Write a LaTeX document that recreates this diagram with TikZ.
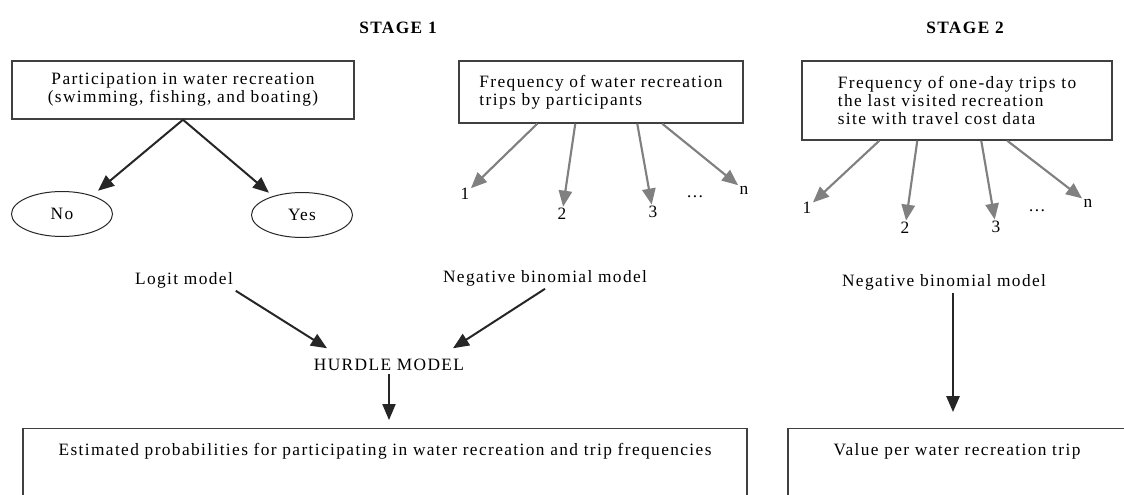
\documentclass[tikz,border=0pt]{standalone}
\usepackage{fontspec}
\setmainfont{Liberation Serif}[LetterSpace=8]
\usetikzlibrary{shapes.geometric,arrows.meta,calc}

\tikzset{
  framebox/.style={draw=black!75, line width=1.1pt, inner sep=0pt, align=left},
  choice/.style={ellipse, draw=black!85, line width=0.75pt, minimum width=75.75pt, minimum height=33.75pt},
  blkarrow/.style={draw=black!85, line width=1.5pt, -{Triangle[length=12pt,width=10pt]}},
  gryarrow/.style={draw=black!50, line width=1.6pt, -{Triangle[length=12pt,width=10pt]}},
  countlbl/.style={inner sep=1pt},
  modellbl/.style={inner sep=2pt},
  stagelbl/.style={font=\fontsize{13}{13.5}\selectfont\bfseries},
}

\begin{document}
\begin{tikzpicture}[x=0.75pt,y=-0.75pt,font=\fontsize{13}{13.5}\selectfont]
\useasboundingbox (0,0) rectangle (1124,495);
\clip (0,0) rectangle (1124,495);
%% stage titles
\node[stagelbl] (st1) at (398,28) {STAGE 1};
\node[stagelbl] (st2) at (965,28) {STAGE 2};
%% top boxes
\node[framebox, align=center, minimum width=256.5pt, minimum height=43.5pt] (part) at (183,90)
  {Participation in water recreation\\(swimming, fishing, and boating)};
\node[framebox, minimum width=213pt, minimum height=46.5pt] (freq) at (601,92)
  {Frequency of water recreation\\trips by participants};
\node[framebox, minimum width=232.5pt, minimum height=59.25pt] (site) at (957,100.5)
  {Frequency of one-day trips to\\the last visited recreation\\site with travel cost data};
%% participation: no / yes
\node[choice] (no) at (62,214) {No};
\node[choice] (yes) at (302,215) {Yes};
\draw[blkarrow] (part.south) -- ($(no.north east)+(0,-7)$);
\draw[blkarrow] (part.south) -- ($(yes.north west)+(3,-6)$);
%% trip counts, stage 1
\node[countlbl] (f1) at (465,194) {1};
\node[countlbl] (f2) at (562,214) {2};
\node[countlbl] (f3) at (653,212) {3};
\node[countlbl] (fdots) at (695,197) {…};
\node[countlbl] (fn) at (744,190) {n};
\foreach \dx/\lbl in {79/f1, 117/f2, 179/f3, 204/fn}
  \draw[gryarrow] ($(freq.south west)+(\dx,0)$) -- (\lbl);
%% trip counts, stage 2
\node[countlbl] (s1) at (807,208) {1};
\node[countlbl] (s2) at (905,228) {2};
\node[countlbl] (s3) at (996,227) {3};
\node[countlbl] (sdots) at (1037,211) {…};
\node[countlbl] (sn) at (1088,203) {n};
\foreach \dx/\lbl in {78/s1, 116/s2, 180/s3, 206/sn}
  \draw[gryarrow] ($(site.south west)+(\dx,0)$) -- (\lbl);
%% models
\node[modellbl] (logit) at (184,280) {Logit model};
\node[modellbl] (nb1) at (545,278) {Negative binomial model};
\node[modellbl] (hurdle) at (389,365) {HURDLE MODEL};
\node[modellbl] (nb2) at (944,282) {Negative binomial model};
%% results
\node[framebox, align=center, anchor=north, minimum width=543pt, inner ysep=11pt, text height=9pt, text depth=60pt] (est) at (385,428)
  {Estimated probabilities for participating in water recreation and trip frequencies};
\node[framebox, align=center, anchor=north, minimum width=253.5pt, inner ysep=11pt, text height=9pt, text depth=60pt] (val) at (957,428)
  {Value per water recreation trip};
\draw[blkarrow] (logit.south east) -- ($(hurdle.north west)+(16,-8)$);
\draw[blkarrow] (nb1.south) -- ($(hurdle.north east)+(-14,-8)$);
\draw[blkarrow, line width=0.8pt] (hurdle.south) -- ($(hurdle.south |- est.north)+(0,-8)$);
\draw[blkarrow] ($(nb2.south)+(9,0)$) -- ($(nb2.south |- val.north)+(9,-16)$);
\end{tikzpicture}
\end{document}
